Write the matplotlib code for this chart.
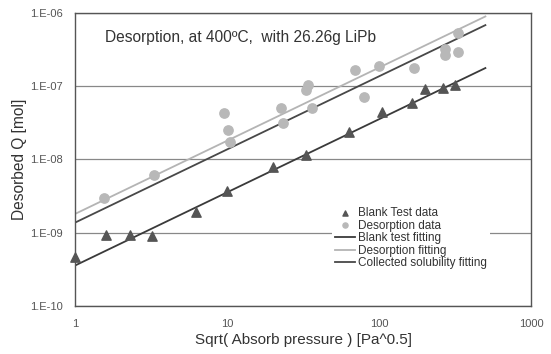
import matplotlib.pyplot as plt
import numpy as np
from matplotlib.ticker import FixedLocator, FixedFormatter, NullLocator

plt.rcParams['font.family'] = ['Liberation Sans', 'DejaVu Sans']

# Blank test data
blank_x = [1.0, 1.6, 2.3, 3.2, 6.3, 10, 20, 33, 63, 105, 165, 200, 265, 316]
blank_y = [4.7e-10, 9.2e-10, 9.2e-10, 9.0e-10, 1.9e-9, 3.7e-9, 7.8e-9, 1.15e-8,
           2.4e-8, 4.5e-8, 5.9e-8, 9.1e-8, 9.5e-8, 1.05e-7]

# Desorption data
des_x = [1.55, 3.3, 9.5, 10.1, 10.4, 22.6, 23.4, 33, 34, 36, 69, 80, 100, 170,
         272, 272, 330, 330]
des_y = [3.0e-9, 6.2e-9, 4.3e-8, 2.5e-8, 1.75e-8, 5.1e-8, 3.2e-8, 8.9e-8, 1.05e-7,
         5.1e-8, 1.67e-7, 7.2e-8, 1.9e-7, 1.8e-7, 3.2e-7, 2.7e-7, 2.9e-7, 5.4e-7]

# fitting coefficients (Q = k * x)
fit_x = [1.0, 500.0]
k_blank = 3.55e-10
k_des = 1.8e-9
k_coll = 1.37e-9

fig = plt.figure(figsize=(5.51, 3.54), dpi=100)
ax = fig.add_axes([0.136, 0.136, 0.828, 0.827])

ax.plot(fit_x, [k_blank * v for v in fit_x], color='#3a3a3a', lw=1.3,
        label='Blank test fitting', zorder=2)
ax.plot(fit_x, [k_des * v for v in fit_x], color='#b4b4b4', lw=1.3,
        label='Desorption fitting', zorder=2)
ax.plot(fit_x, [k_coll * v for v in fit_x], color='#484848', lw=1.3,
        label='Collected solubility fitting', zorder=2)
ax.scatter(blank_x, blank_y, marker='^', s=45, color='#555555',
           label='Blank Test data', zorder=3, clip_on=False)
ax.scatter(des_x, des_y, marker='o', s=45, color='#b8b8b8',
           label='Desorption data', zorder=3)

ax.set_xscale('log')
ax.set_yscale('log')
ax.set_xlim(1, 1000)
ax.set_ylim(1e-10, 1e-6)

ax.xaxis.set_major_locator(FixedLocator([1, 10, 100, 1000]))
ax.xaxis.set_major_formatter(FixedFormatter(['1', '10', '100', '1000']))
ax.xaxis.set_minor_locator(NullLocator())
yt = [1e-10, 1e-9, 1e-8, 1e-7, 1e-6]
ax.yaxis.set_major_locator(FixedLocator(yt))
ax.yaxis.set_major_formatter(FixedFormatter(['1.E-10', '1.E-09', '1.E-08', '1.E-07', '1.E-06']))
ax.yaxis.set_minor_locator(NullLocator())
ax.tick_params(length=0, labelsize=8, labelcolor='#555555')
ax.tick_params(axis='x', pad=9.5)
ax.tick_params(axis='y', pad=9)

ax.grid(True, axis='y', color='#888888', lw=0.9)
for s in ax.spines.values():
    s.set_color('#555555')
    s.set_linewidth(1.0)

ax.set_xlabel('Sqrt( Absorb pressure ) [Pa^0.5]', fontsize=11, color='#333333', labelpad=3)
ax.set_ylabel('Desorbed Q [mol]', fontsize=11.2, color='#333333', labelpad=2)

ax.text(1.58, 4.7e-7, 'Desorption, at 400ºC,  with 26.26g LiPb', fontsize=11.2,
        color='#333333', va='center')

handles, labels = ax.get_legend_handles_labels()
order = [3, 4, 0, 1, 2]
leg = ax.legend([handles[i] for i in order], [labels[i] for i in order],
                loc='upper left', bbox_to_anchor=(0.55, 0.37), frameon=True,
                fontsize=8.5, labelspacing=0.05, handlelength=1.7, handletextpad=0.2,
                borderpad=0.3, markerscale=0.55, edgecolor='none', framealpha=1)
for t in leg.get_texts():
    t.set_color('#333333')

fig.savefig('out.png', dpi=100)
